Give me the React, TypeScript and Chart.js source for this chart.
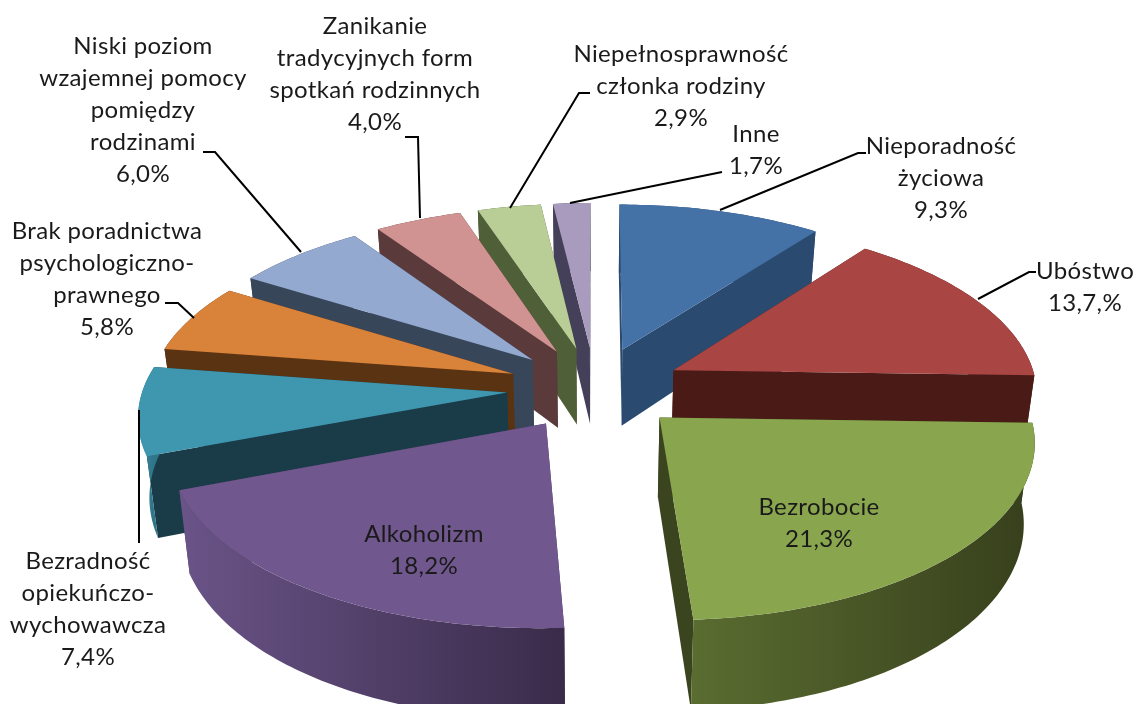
import React, { useEffect, useRef } from "react";
import { Chart, registerables } from "chart.js";

Chart.register(...registerables);

const categories = ["Nieporadność życiowa", "Ubóstwo", "Bezrobocie", "Alkoholizm", "Bezradność opiekuńczo-wychowawcza", "Brak poradnictwa psychologiczno-prawnego", "Niski poziom wzajemnej pomocy pomiędzy rodzinami", "Zanikanie tradycyjnych form spotkań rodzinnych", "Niepełnosprawność członka rodziny", "Inne"];
const shares = [9.3, 13.7, 21.3, 18.2, 7.4, 5.8, 6.0, 4.0, 2.9, 1.7];
const topColors = ["#4472a6", "#a94543", "#89a54e", "#70578d", "#3f97af", "#d9823a", "#93a9cf", "#d19392", "#b9cd96", "#a99bbd"];
const cutColors = ["#2b4a70", "#4a1a17", "#3a4520", "#4a3a60", "#1a3c48", "#5a3312", "#38465a", "#5a3a3a", "#4f5f38", "#45405a"];
const wallLight = ["#2b4a70", "#4a1a17", "#5a6c30", "#6a5488", "#3a8ca4", "#5a3312", "#38465a", "#5a3a3a", "#4f5f38", "#45405a"];
const wallDark = ["#2b4a70", "#4a1a17", "#363f1c", "#3a2b4a", "#2f7488", "#5a3312", "#38465a", "#5a3a3a", "#4f5f38", "#45405a"];

const labelLines = [
  ["Nieporadność", "życiowa", "9,3%"],
  ["Ubóstwo", "13,7,%"],
  ["Bezrobocie", "21,3%"],
  ["Alkoholizm", "18,2%"],
  ["Bezradność", "opiekuńczo-", "wychowawcza", "7,4%"],
  ["Brak poradnictwa", "psychologiczno-", "prawnego", "5,8%"],
  ["Niski poziom", "wzajemnej pomocy", "pomiędzy", "rodzinami", "6,0%"],
  ["Zanikanie", "tradycyjnych form", "spotkań rodzinnych", "4,0%"],
  ["Niepełnosprawność", "członka rodziny", "2,9%"],
  ["Inne", "1,7%"],
];
const labelAnchors = [[941, 146], [1085, 271], [819, 507], [424, 534], [88, 561], [107, 231], [143, 46], [375, 26], [681, 54], [756, 134]];
const leaders = [
  [[720, 210], [858, 153], [866, 153]],
  [[978, 299], [1029, 272], [1036, 272]],
  [],
  [],
  [[139, 410], [139, 543]],
  [[165, 303], [178, 303], [194, 318]],
  [[301, 252], [215, 152], [203, 152]],
  [[420, 218], [418, 137], [405, 137]],
  [[510, 208], [579, 93], [590, 93]],
  [[570, 203], [722, 172]],
];

const CX = 595, CY = 388, R = 364, K = 171, P = 0.119, H = 78, CONVERGE = 0.025;
const project = (X: number, Y: number, Z: number) => {
  const s = 1 / (1 - P * Y);
  return [CX + R * s * X * (1 - CONVERGE * Z), CY + K * s * Y + H * s * Z];
};

const pie3d = {
  id: "pie3d",
  beforeDatasetsDraw(chart: any) {
    const ctx = chart.ctx;
    const meta = chart.getDatasetMeta(0);
    const items = meta.data.map((el: any, i: number) => {
      const a0 = el.startAngle + Math.PI / 2;
      const a1 = el.endAngle + Math.PI / 2;
      const mid = (a0 + a1) / 2;
      const e = el.options.offset / el.outerRadius;
      return { i, a0, a1, mid, ox: e * Math.sin(mid), oy: -e * Math.cos(mid) };
    });
    items.sort((a: any, b: any) => -Math.cos(a.mid) - -Math.cos(b.mid));
    const poly = (pts: number[][], fill: any) => {
      ctx.beginPath();
      pts.forEach((p, n) => (n ? ctx.lineTo(p[0], p[1]) : ctx.moveTo(p[0], p[1])));
      ctx.closePath();
      ctx.fillStyle = fill;
      ctx.fill();
    };
    for (const it of items) {
      const rim = (z: number) => {
        const pts: number[][] = [];
        const n = Math.max(8, Math.ceil((it.a1 - it.a0) * 60));
        for (let k = 0; k <= n; k++) {
          const a = it.a0 + ((it.a1 - it.a0) * k) / n;
          pts.push(project(it.ox + Math.sin(a), it.oy - Math.cos(a), z));
        }
        return pts;
      };
      const top = rim(0), bot = rim(1);
      const apexT = project(it.ox, it.oy, 0), apexB = project(it.ox, it.oy, 1);
      poly([apexT, top[0], bot[0], apexB], cutColors[it.i]);
      poly([apexT, top[top.length - 1], bot[bot.length - 1], apexB], cutColors[it.i]);
      const xs = top.map((p) => p[0]);
      const g = ctx.createLinearGradient(Math.min(...xs), 0, Math.max(...xs), 0);
      g.addColorStop(0, wallLight[it.i]);
      g.addColorStop(1, wallDark[it.i]);
      poly([...top, ...bot.slice().reverse()], g);
      poly([apexT, ...top], topColors[it.i]);
    }
    return false;
  },
  afterDraw(chart: any) {
    const ctx = chart.ctx;
    ctx.save();
    ctx.strokeStyle = "#000";
    ctx.lineWidth = 2;
    leaders.forEach((l) => {
      if (!l.length) return;
      ctx.beginPath();
      l.forEach((p, n) => (n ? ctx.lineTo(p[0], p[1]) : ctx.moveTo(p[0], p[1])));
      ctx.stroke();
    });
    ctx.fillStyle = "#1a1a1a";
    ctx.font = "24px Lato";
    ctx.letterSpacing = "0.35px";
    ctx.textAlign = "center";
    ctx.textBaseline = "middle";
    labelLines.forEach((lines, i) => {
      lines.forEach((t, n) => ctx.fillText(t, labelAnchors[i][0], labelAnchors[i][1] + n * 32));
    });
    ctx.restore();
  },
};

export default function App() {
  const ref = useRef<HTMLCanvasElement>(null);
  useEffect(() => {
    const chart = new Chart(ref.current!, {
      type: "pie",
      data: {
        labels: categories,
        datasets: [{ data: shares, backgroundColor: topColors, offset: 76, borderWidth: 0 }],
      },
      options: {
        animation: false,
        responsive: false,
        layout: { padding: 0 },
        plugins: { legend: { display: false }, tooltip: { enabled: false } },
      },
      plugins: [pie3d],
    } as any);
    return () => chart.destroy();
  }, []);
  return (
    <div style={{ position: "fixed", left: 0, top: 0, width: 1137, height: 704, background: "#fff", overflow: "hidden" }}>
      <canvas ref={ref} width={1137} height={704} style={{ display: "block" }} />
    </div>
  );
}
